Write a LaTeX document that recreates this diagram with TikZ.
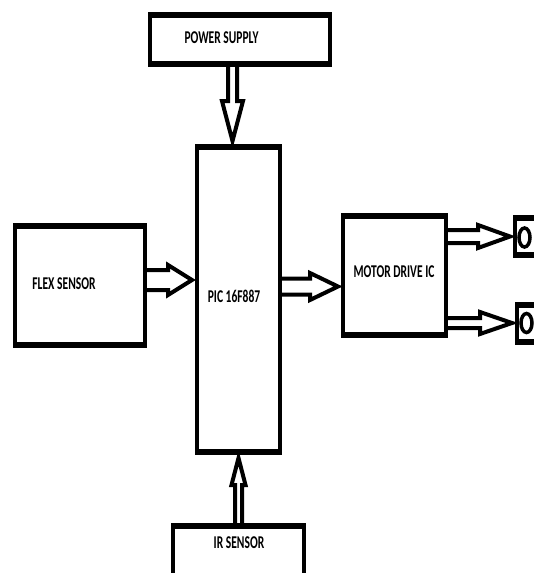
\documentclass[tikz,border=0pt]{standalone}
\usepackage{fontspec}
\setmainfont{Carlito}
\usetikzlibrary{calc}
\newcommand\lbl[1]{\scalebox{0.64}[1]{\fontsize{18}{21}\selectfont\bfseries #1}}
\newcommand\hollow[5]{%
  \coordinate (hb) at ($(#2)!#5pt!(#1)$);
  \draw[harrow] ($(#1)!#3pt!90:(#2)$) -- ($(hb)!#3pt!-90:(#1)$) -- ($(hb)!#4pt!-90:(#1)$)
    -- (#2) -- ($(hb)!#4pt!90:(#1)$) -- ($(hb)!#3pt!90:(#1)$) -- ($(#1)!#3pt!-90:(#2)$);}
\tikzset{
  blk/.style={fill=black, inner sep=0pt, outer sep=0pt,
    path picture={\fill[white] ([xshift=4pt,yshift=6pt]path picture bounding box.south west)
      rectangle ([xshift=-4pt,yshift=-6pt]path picture bounding box.north east);}},
  harrow/.style={draw=black, line width=4pt, line join=miter},
  lab/.style={inner sep=0pt}
}
\begin{document}
\begin{tikzpicture}[x=1pt,y=-1pt]
\useasboundingbox (0,0) rectangle (534,573);
\fill[white] (0,0) rectangle (534,573);
\clip (0,0) rectangle (534,573);
% boxes
\node[blk, minimum width=184pt, minimum height=55pt] (ps) at (240,39.5) {};
\node[blk, minimum width=87pt, minimum height=311pt] (pic) at (238.5,299.5) {};
\node[blk, minimum width=134pt, minimum height=125pt] (flex) at (80,285.5) {};
\node[blk, minimum width=107pt, minimum height=125pt] (mot) at (394.5,275.5) {};
\node[blk, minimum width=135pt, minimum height=77pt] (ir) at (238.5,561.5) {};
\node[blk, minimum width=47pt, minimum height=43pt] (m1) at (536.5,236.5) {};
\node[blk, minimum width=45pt, minimum height=43pt] (m2) at (537.5,323.5) {};
\draw[line width=3.5pt] (524.5,237.5) ellipse [x radius=5.5pt, y radius=9.5pt];
\draw[line width=3.5pt] (526.5,323) ellipse [x radius=5.5pt, y radius=9.5pt];
% labels
\node[lab] at (221.5,37.5) {\lbl{POWER SUPPLY}};
\node[lab] at (64,283.5) {\lbl{FLEX SENSOR}};
\node[lab] at (234,296) {\lbl{PIC 16F887}};
\node[lab] at (394,271.5) {\lbl{MOTOR DRIVE IC}};
\node[lab] at (239,542.5) {\lbl{IR SENSOR}};
% arrow end points
\coordinate (a1s) at ($(ps.south)+(-7.5,-2)$);
\coordinate (a1e) at ($(pic.north)+(-6,-3)$);
\coordinate (a2s) at ($(flex.east)+(-2,-5.5)$);
\coordinate (a2e) at ($(pic.west)+(-3,-19.5)$);
\coordinate (a3s) at ($(pic.east)+(-2,-13)$);
\coordinate (a3e) at ($(mot.west)+(-3,11)$);
\coordinate (a4s) at ($(mot.east)+(-2,-39)$);
\coordinate (a4e) at ($(m1.west)+(-3,0)$);
\coordinate (a5s) at ($(mot.east)+(-2,47.5)$);
\coordinate (a5e) at ($(m2.west)+(-3,-0.5)$);
\coordinate (a6s) at ($(ir.north)+(0,2)$);
\coordinate (a6e) at ($(pic.south)+(0,3)$);
\hollow{a1s}{a1e}{4.5}{10.5}{40}
\hollow{a2s}{a2e}{10}{15}{24}
\hollow{a3s}{a3e}{8}{13.5}{28}
\hollow{a4s}{a4e}{6.5}{11.5}{32}
\hollow{a5s}{a5e}{5}{11}{32}
\hollow{a6s}{a6e}{3.5}{7}{27}
\end{tikzpicture}
\end{document}
